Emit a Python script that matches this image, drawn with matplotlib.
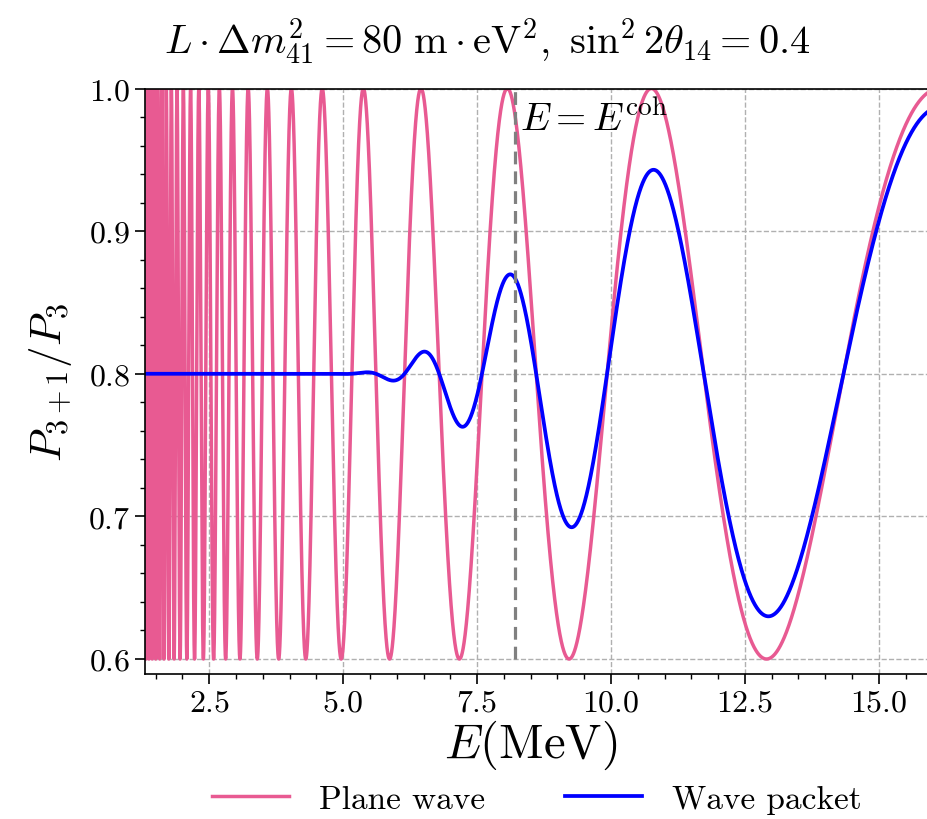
import numpy as np
import matplotlib
matplotlib.use("Agg")
import matplotlib.pyplot as plt
from matplotlib.ticker import MultipleLocator

plt.rcParams["font.family"] = "serif"
plt.rcParams["font.serif"] = ["cmr10", "DejaVu Serif"]
plt.rcParams["mathtext.fontset"] = "cm"
plt.rcParams["axes.formatter.use_mathtext"] = True

# parameters read from the title / dashed marker
L_dm2 = 80.0          # m eV^2
sin2_2theta = 0.4
E_coh = 8.2           # MeV, dashed line
E_min, E_max = 1.3, 16.05

E = np.linspace(E_min, E_max, 200000)
phase = 1.267 * L_dm2 / E
P_plane = 1 - sin2_2theta * np.sin(phase) ** 2
damp = np.exp(-(E_coh / E) ** 4)
P_packet = 1 - sin2_2theta / 2 * (1 - np.cos(2 * phase) * damp)

pink = "#E85A92"
blue = "#0000FF"

fig = plt.figure(figsize=(9.27, 8.2), dpi=100)
ax = fig.add_axes([145 / 927, 145 / 820, 790 / 927, 585.5 / 820])

ax.plot(E, P_plane, color=pink, lw=2.5, label="Plane wave")
ax.plot(E, P_packet, color=blue, lw=2.7, label="Wave packet")
ax.vlines(E_coh, 0.6, 1.0, colors="#808080", linestyles=(0, (4, 2.2)), lw=2.3)
ax.text(E_coh + 0.1, 0.979, r"$E=E^{\mathrm{coh}}$", fontsize=28, va="center", ha="left")

ax.set_xlim(E_min, E_max)
ax.set_ylim(0.5895, 1.0)
ax.xaxis.set_major_locator(MultipleLocator(2.5))
ax.xaxis.set_minor_locator(MultipleLocator(0.5))
ax.yaxis.set_major_locator(MultipleLocator(0.1))
ax.yaxis.set_minor_locator(MultipleLocator(0.02))
ax.tick_params(which="major", length=7, width=1.2, labelsize=23)
ax.tick_params(which="minor", length=3.5, width=1.0)
ax.grid(True, which="major", ls="--", color="#b0b0b0", lw=1)
ax.set_axisbelow(True)
for s in ax.spines.values():
    s.set_linewidth(1.2)

ax.set_xlabel(r"$E(\mathrm{MeV})$", fontsize=35, labelpad=0)
ax.xaxis.set_label_coords((531 - 145) / 790, -0.075)
ax.set_ylabel(r"$P_{3+1}/P_3$", fontsize=31, labelpad=10)

fig.text(487 / 927, 1 - 42 / 820,
         r"$L\cdot\Delta m^2_{41}=80\ \mathrm{m}\cdot\mathrm{eV}^2,\ \sin^2 2\theta_{14}=0.4$",
         fontsize=29, ha="center", va="center")

fig.legend(loc="center", bbox_to_anchor=(537 / 927, 20 / 820), ncol=2, frameon=False,
           fontsize=24, handlelength=2.3, columnspacing=2.4, handletextpad=0.9)

fig.savefig("out.png", dpi=100)
